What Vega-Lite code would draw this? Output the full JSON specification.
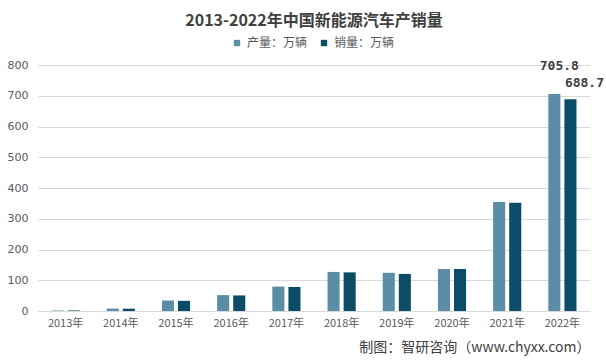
{
  "$schema": "https://vega.github.io/schema/vega-lite/v6.json",
  "width": 552,
  "height": 246,
  "autosize": {"type": "none"},
  "padding": {"left": 38, "top": 65, "right": 16, "bottom": 52},
  "background": "#ffffff",
  "title": {
    "text": "2013-2022年中国新能源汽车产销量",
    "font": "Noto Sans CJK SC",
    "fontSize": 16,
    "fontWeight": "bold",
    "color": "#404040",
    "anchor": "middle",
    "offset": 8
  },
  "data": {
    "values": [
      {"year": "2013年", "type": "产量：万辆", "value": 1.75},
      {"year": "2013年", "type": "销量：万辆", "value": 1.76},
      {"year": "2014年", "type": "产量：万辆", "value": 7.85},
      {"year": "2014年", "type": "销量：万辆", "value": 7.48},
      {"year": "2015年", "type": "产量：万辆", "value": 34.05},
      {"year": "2015年", "type": "销量：万辆", "value": 33.1},
      {"year": "2016年", "type": "产量：万辆", "value": 51.7},
      {"year": "2016年", "type": "销量：万辆", "value": 50.7},
      {"year": "2017年", "type": "产量：万辆", "value": 79.4},
      {"year": "2017年", "type": "销量：万辆", "value": 77.7},
      {"year": "2018年", "type": "产量：万辆", "value": 127},
      {"year": "2018年", "type": "销量：万辆", "value": 125.6},
      {"year": "2019年", "type": "产量：万辆", "value": 124.2},
      {"year": "2019年", "type": "销量：万辆", "value": 120.6},
      {"year": "2020年", "type": "产量：万辆", "value": 136.6},
      {"year": "2020年", "type": "销量：万辆", "value": 136.7},
      {"year": "2021年", "type": "产量：万辆", "value": 354.5},
      {"year": "2021年", "type": "销量：万辆", "value": 352.1},
      {"year": "2022年", "type": "产量：万辆", "value": 705.8},
      {"year": "2022年", "type": "销量：万辆", "value": 688.7}
    ]
  },
  "encoding": {
    "x": {
      "field": "year",
      "type": "nominal",
      "scale": {"paddingInner": 0.49, "paddingOuter": 0.245},
      "axis": {
        "title": "制图：智研咨询（www.chyxx.com）",
        "titleFont": "Noto Sans CJK SC",
        "titleFontSize": 14,
        "titleFontWeight": "normal",
        "titleColor": "#404040",
        "titleAnchor": "end",
        "titleAlign": "right",
        "titlePadding": 12,
        "labelAngle": 0,
        "labelFont": "Noto Sans CJK SC",
        "labelFontSize": 11,
        "labelColor": "#595959",
        "labelPadding": 6,
        "ticks": false,
        "domainColor": "#d9d9d9",
        "grid": false
      }
    },
    "xOffset": {"field": "type", "type": "nominal", "scale": {"paddingInner": 0.25}},
    "y": {
      "field": "value",
      "type": "quantitative",
      "scale": {"domain": [0, 800], "nice": false},
      "axis": {
        "title": null,
        "values": [0, 100, 200, 300, 400, 500, 600, 700, 800],
        "labelOverlap": false,
        "domain": false,
        "ticks": false,
        "labelFont": "DejaVu Sans",
        "labelFontSize": 11,
        "labelColor": "#595959",
        "labelPadding": 10,
        "gridColor": "#d9d9d9"
      }
    }
  },
  "layer": [
    {
      "mark": {"type": "bar"},
      "encoding": {
        "color": {
          "field": "type",
          "type": "nominal",
          "scale": {"domain": ["产量：万辆", "销量：万辆"], "range": ["#5b8ea6", "#0c4c67"]},
          "legend": {
            "title": null,
            "orient": "none",
            "legendX": 193,
            "legendY": -28,
            "direction": "horizontal",
            "symbolType": "square",
            "symbolSize": 40,
            "labelFont": "Noto Sans CJK SC",
            "labelFontSize": 12,
            "labelColor": "#595959",
            "columnPadding": 10
          }
        }
      }
    },
    {
      "transform": [{"filter": "datum.year === '2022年' && datum.type === '产量：万辆'"}],
      "mark": {"type": "text", "font": "DejaVu Sans Mono", "fontSize": 13, "fontWeight": "bold", "color": "#404040", "dx": 5, "dy": -28},
      "encoding": {"text": {"field": "value", "type": "quantitative", "format": ".1f"}}
    },
    {
      "transform": [{"filter": "datum.year === '2022年' && datum.type === '销量：万辆'"}],
      "mark": {"type": "text", "font": "DejaVu Sans Mono", "fontSize": 13, "fontWeight": "bold", "color": "#404040", "dx": 14, "dy": -16},
      "encoding": {"text": {"field": "value", "type": "quantitative", "format": ".1f"}}
    }
  ],
  "config": {"view": {"stroke": null}}
}
